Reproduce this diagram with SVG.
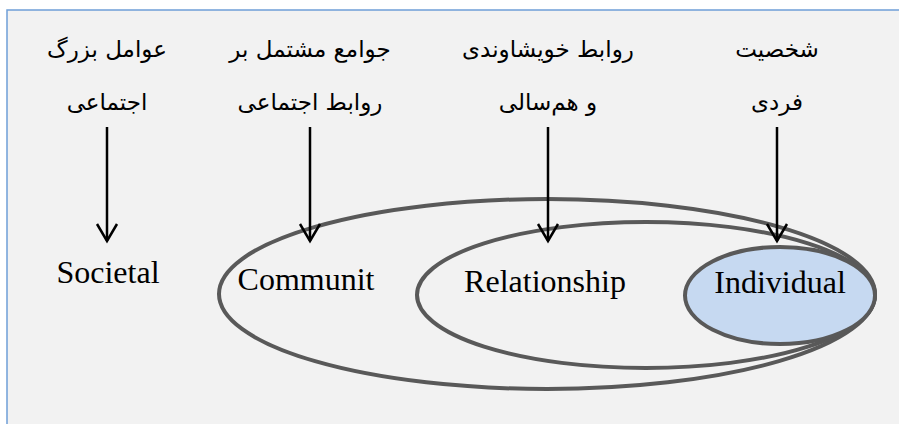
<svg xmlns="http://www.w3.org/2000/svg" width="899" height="424" viewBox="0 0 899 424">
<style>
.ring{fill:none;stroke:#595959;stroke-width:4}
.core{fill:#c6d9f1;stroke:#595959;stroke-width:4}
.en{font-family:"Liberation Serif","Times New Roman",serif;font-size:32px;fill:#000;text-anchor:middle}
.fa{font-family:"DejaVu Sans","Noto Sans",sans-serif;font-size:23px;fill:#000;text-anchor:middle;direction:rtl}
.arr{fill:none;stroke:#000;stroke-width:2.5}
.head{fill:none;stroke:#000;stroke-width:2.5;stroke-linejoin:miter}
</style>
<rect x="0" y="0" width="899" height="424" fill="#ffffff"/>
<rect x="7" y="10" width="900" height="420" fill="#f2f2f2" stroke="#6f9fd8" stroke-width="1.5"/>

<g id="community">
<ellipse class="ring" cx="547" cy="294" rx="328" ry="95"/>
<text class="en" x="306" y="290">Communit</text>
</g>
<g id="relationship">
<ellipse class="ring" cx="646" cy="295" rx="229" ry="73"/>
<text class="en" x="545" y="292">Relationship</text>
</g>
<g id="individual">
<ellipse class="core" cx="780" cy="295.5" rx="95" ry="48.5"/>
<text class="en" x="780" y="293">Individual</text>
</g>
<g id="societal">
<text class="en" x="108" y="283">Societal</text>
</g>

<g id="label-societal">
<text class="fa" x="107" y="57">عوامل بزرگ</text>
<text class="fa" x="107" y="110">اجتماعی</text>
</g>
<g id="label-community">
<text class="fa" x="310" y="57">جوامع مشتمل بر</text>
<text class="fa" x="310" y="110">روابط اجتماعی</text>
</g>
<g id="label-relationship">
<text class="fa" x="548" y="57">روابط خویشاوندی</text>
<text class="fa" x="548" y="110">و هم‌سالی</text>
</g>
<g id="label-individual">
<text class="fa" x="777" y="57">شخصیت</text>
<text class="fa" x="777" y="110">فردی</text>
</g>

<g id="connectors">
<line class="arr" x1="107" y1="127" x2="107" y2="241"/>
<path class="head" d="M97,224 L107,241 L117,224"/>
<line class="arr" x1="310" y1="127" x2="310" y2="241"/>
<path class="head" d="M300,224 L310,241 L320,224"/>
<line class="arr" x1="548" y1="127" x2="548" y2="241"/>
<path class="head" d="M538,224 L548,241 L558,224"/>
<line class="arr" x1="777" y1="127" x2="777" y2="241"/>
<path class="head" d="M767,224 L777,241 L787,224"/>
</g>
</svg>
